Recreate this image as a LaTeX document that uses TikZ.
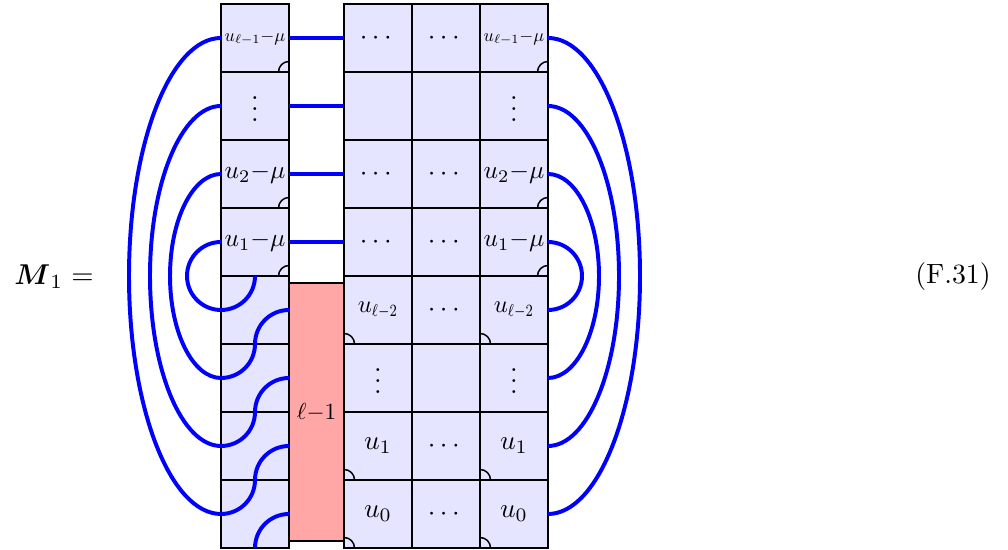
\documentclass[tikz,border=0pt]{standalone}
\usepackage{amsmath}
\newcommand{\uA}{\scalebox{.66}{$u_{\ell-1}{-}\mu$}}
\newcommand{\uB}{\scalebox{.9}{$u_{\scalebox{.75}[1]{$\scriptstyle\ell{-}2$}}$}}
\newcommand{\uC}[1]{\scalebox{.93}{$u_{#1}{-}\mu$}}
\newcommand{\vd}{\raisebox{4pt}{$\vdots$}}
\newcommand{\unitpx}{*0.3663pt}
\definecolor{cellfill}{HTML}{E5E5FF}
\definecolor{redfill}{HTML}{FFA6A6}
\tikzset{
  cellbox/.style={draw=black,fill=cellfill,line width=0.6pt,minimum width=68\unitpx,minimum height=68\unitpx,inner sep=0pt,outer sep=0pt},
  redbox/.style={draw=black,fill=redfill,line width=0.6pt,minimum width=55\unitpx,minimum height=258\unitpx,inner sep=0pt,outer sep=0pt},
  wire/.style={draw=blue,line width=1.45pt},
  corner/.style={draw=black,line width=0.55pt},
  plain/.style={inner sep=0pt,outer sep=0pt}
}
\newcommand{\arcNE}[1]{\draw[corner] ([xshift=-3.85pt]#1.south east) arc[start angle=180,end angle=90,radius=3.85pt];}
\newcommand{\arcNW}[1]{\draw[corner] ([xshift=3.85pt]#1.south west) arc[start angle=0,end angle=90,radius=3.85pt];}
\begin{document}
\begin{tikzpicture}[x=0.3663pt,y=0.3663pt]
\useasboundingbox (0,0) rectangle (1008,550);
% left column
\node[cellbox] (L1) at (255,512) {\uA};
\node[cellbox] (L2) at (255,444) {\vd};
\node[cellbox] (L3) at (255,376) {\uC{2}};
\node[cellbox] (L4) at (255,308) {\uC{1}};
\node[cellbox] (L5) at (255,240) {};
\node[cellbox] (L6) at (255,172) {};
\node[cellbox] (L7) at (255,104) {};
\node[cellbox] (L8) at (255,36) {};
% grid
\node[cellbox] (G11) at (378,512) {$\cdots$};
\node[cellbox] (G12) at (446,512) {$\cdots$};
\node[cellbox] (G13) at (514,512) {\uA};
\node[cellbox] (G21) at (378,444) {};
\node[cellbox] (G22) at (446,444) {};
\node[cellbox] (G23) at (514,444) {\vd};
\node[cellbox] (G31) at (378,376) {$\cdots$};
\node[cellbox] (G32) at (446,376) {$\cdots$};
\node[cellbox] (G33) at (514,376) {\uC{2}};
\node[cellbox] (G41) at (378,308) {$\cdots$};
\node[cellbox] (G42) at (446,308) {$\cdots$};
\node[cellbox] (G43) at (514,308) {\uC{1}};
\node[cellbox] (G51) at (378,240) {\uB};
\node[cellbox] (G52) at (446,240) {$\cdots$};
\node[cellbox] (G53) at (514,240) {\uB};
\node[cellbox] (G61) at (378,172) {\vd};
\node[cellbox] (G62) at (446,172) {};
\node[cellbox] (G63) at (514,172) {\vd};
\node[cellbox] (G71) at (378,104) {\raisebox{-1pt}{$u_1$}};
\node[cellbox] (G72) at (446,104) {$\cdots$};
\node[cellbox] (G73) at (514,104) {\raisebox{-1pt}{$u_1$}};
\node[cellbox] (G81) at (378,36) {\raisebox{-2.4pt}{$u_0$}};
\node[cellbox] (G82) at (446,36) {$\cdots$};
\node[cellbox] (G83) at (514,36) {\raisebox{-2.4pt}{$u_0$}};
% corner marks
\arcNE{L1}\arcNE{L3}\arcNE{L4}
\arcNE{G13}\arcNE{G33}\arcNE{G43}
\arcNW{G51}\arcNW{G53}\arcNW{G71}\arcNW{G73}\arcNW{G81}\arcNW{G83}
% red box
\node[redbox] (R) at (316.5,138) {\scalebox{.85}{$\ell{-}1$}};
% straight wires
\draw[wire] (L1.east) -- (G11.west);
\draw[wire] (L2.east) -- (G21.west);
\draw[wire] (L3.east) -- (G31.west);
\draw[wire] (L4.east) -- (G41.west);
% left loops
\draw[wire] (L1.west) .. controls +(-50.8,0) and +(0,131.4) .. ([xshift=-92\unitpx]L5.north west)
  .. controls +(0,-131.4) and +(-50.8,0) .. (L8.west);
\draw[wire] (L2.west) .. controls +(-39.2,0) and +(0,93.9) .. ([xshift=-71\unitpx]L5.north west)
  .. controls +(0,-93.9) and +(-39.2,0) .. (L7.west);
\draw[wire] (L3.west) .. controls +(-28.2,0) and +(0,56.3) .. ([xshift=-51\unitpx]L5.north west)
  .. controls +(0,-56.3) and +(-28.2,0) .. (L6.west);
\draw[wire] (L4.west) .. controls +(-18.8,0) and +(0,18.8) .. ([xshift=-34\unitpx]L5.north west)
  .. controls +(0,-18.8) and +(-18.8,0) .. (L5.west);
% wires inside the left column
\draw[wire] (L5.north) to[out=-90,in=0] (L5.west);
\draw[wire] (L5.east) to[out=180,in=90] (L5.south);
\draw[wire] (L6.north) to[out=-90,in=0] (L6.west);
\draw[wire] (L6.east) to[out=180,in=90] (L6.south);
\draw[wire] (L7.north) to[out=-90,in=0] (L7.west);
\draw[wire] (L7.east) to[out=180,in=90] (L7.south);
\draw[wire] (L8.north) to[out=-90,in=0] (L8.west);
\draw[wire] (L8.east) to[out=180,in=90] (L8.south);
% right loops
\draw[wire] (G13.east) .. controls +(50.8,0) and +(0,131.4) .. ([xshift=92\unitpx]G53.north east)
  .. controls +(0,-131.4) and +(50.8,0) .. (G83.east);
\draw[wire] (G23.east) .. controls +(39.2,0) and +(0,93.9) .. ([xshift=71\unitpx]G53.north east)
  .. controls +(0,-93.9) and +(39.2,0) .. (G73.east);
\draw[wire] (G33.east) .. controls +(28.2,0) and +(0,56.3) .. ([xshift=51\unitpx]G53.north east)
  .. controls +(0,-56.3) and +(28.2,0) .. (G63.east);
\draw[wire] (G43.east) .. controls +(18.8,0) and +(0,18.8) .. ([xshift=34\unitpx]G53.north east)
  .. controls +(0,-18.8) and +(18.8,0) .. (G53.east);
% labels
\node[plain] (lhs) at (54,273) {\scalebox{1.05}{$\boldsymbol{M}_1=$}};
\node[plain] (eqno) at (953,273) {\scalebox{1.02}{(F.31)}};
\end{tikzpicture}
\end{document}
